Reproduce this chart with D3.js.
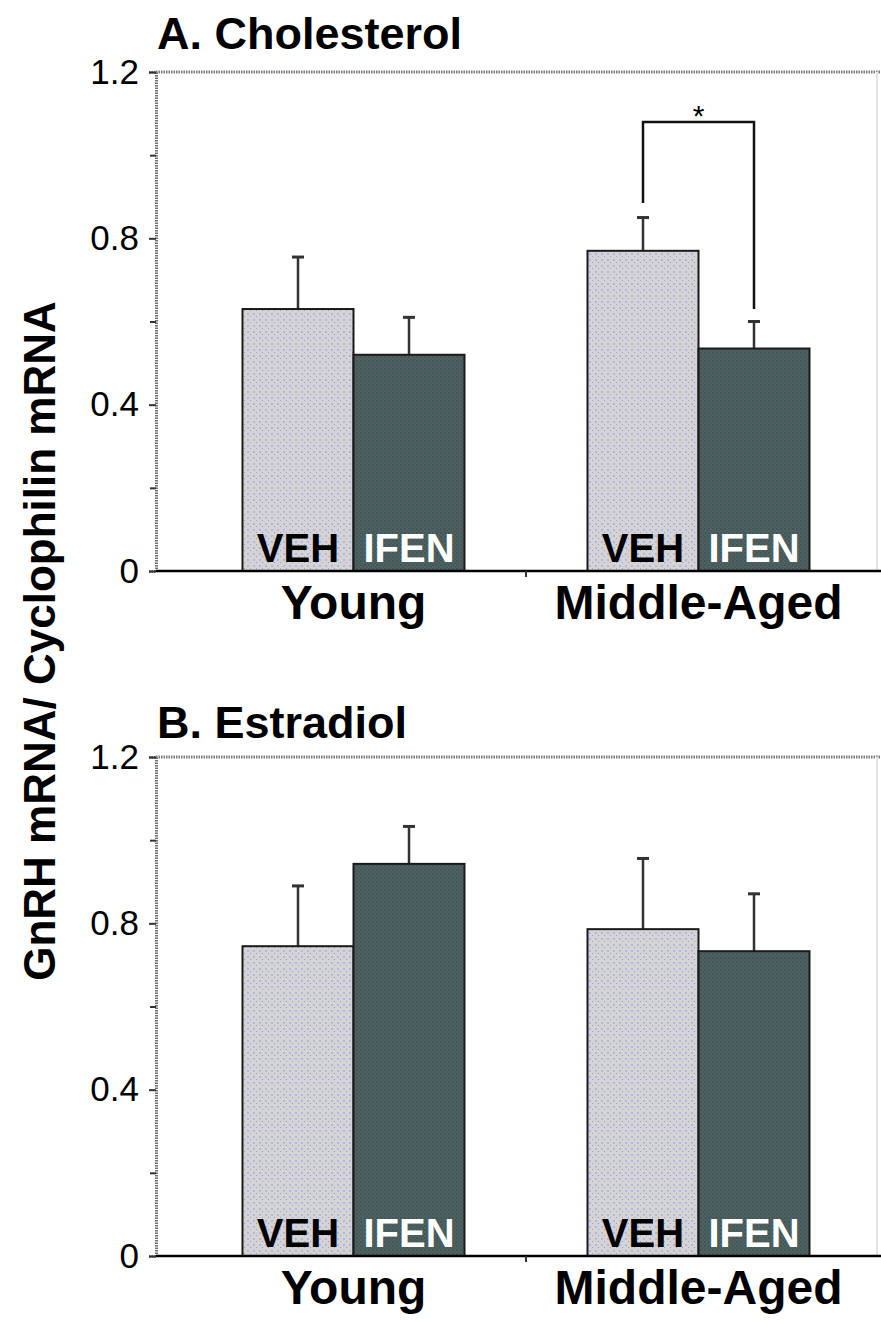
<!DOCTYPE html>
<html>
<head>
<meta charset="utf-8">
<script src="https://cdn.jsdelivr.net/npm/d3@7"></script>
<style>
  body { margin: 0; background: #fff; }
  text { font-family: "Liberation Sans", Arial, sans-serif; }
</style>
</head>
<body>
<script>
// data
const groups = ["Young", "Middle-Aged"];
const treatments = ["VEH", "IFEN"];
const panelTitles = ["A. Cholesterol", "B. Estradiol"];

const cholVEH = [0.63, 0.77];
const cholVEHerr = [0.125, 0.08];
const cholIFEN = [0.52, 0.535];
const cholIFENerr = [0.09, 0.065];

const estrVEH = [0.745, 0.786];
const estrVEHerr = [0.145, 0.17];
const estrIFEN = [0.943, 0.733];
const estrIFENerr = [0.09, 0.138];

const majorTicks = [0, 0.4, 0.8, 1.2];
const minorTicks = [0.2, 0.6, 1.0];

// significance bracket in panel A (Middle-Aged VEH vs IFEN)
const bracket = { group: "Middle-Aged", top: 1.08, leftEnd: 0.885, rightEnd: 0.63, label: "*" };

const width = 881, height = 1321;
const axisX = 156, plotRight = 881, plotH = 499;
const panelTops = [72, 757];

const svg = d3.select("body").append("svg")
    .attr("width", width)
    .attr("height", height);

// textured fills like the original bitmap
let defs = svg.append("defs");
let pv = defs.append("pattern").attr("id", "vehFill")
    .attr("width", 6).attr("height", 6).attr("patternUnits", "userSpaceOnUse");
pv.append("rect").attr("width", 6).attr("height", 6).attr("fill", "#d4d4d6");
pv.append("rect").attr("x", 1).attr("y", 1).attr("width", 2).attr("height", 2).attr("fill", "#b4b4e6");
pv.append("rect").attr("x", 4).attr("y", 4).attr("width", 1).attr("height", 1).attr("fill", "#a0a0a0");

let pi = defs.append("pattern").attr("id", "ifenFill")
    .attr("width", 4).attr("height", 4).attr("patternUnits", "userSpaceOnUse");
pi.append("rect").attr("width", 4).attr("height", 4).attr("fill", "#5c5c5c");
pi.append("rect").attr("width", 2).attr("height", 2).attr("fill", "#345c5c");
pi.append("rect").attr("x", 2).attr("y", 2).attr("width", 2).attr("height", 2).attr("fill", "#3a6060");

let x0 = d3.scaleBand().domain(groups).range([181, 871]).padding(0);
let x1 = d3.scaleBand().domain(treatments).range([0, x0.bandwidth()]).paddingInner(0).paddingOuter(0.554);
let y = d3.scaleLinear().domain([0, 1.2]).range([plotH, 0]);

let fills = { VEH: "url(#vehFill)", IFEN: "url(#ifenFill)" };
let labelColor = { VEH: "#000", IFEN: "#fff" };

function drawPanel(idx, veh, vehErr, ifen, ifenErr) {
    let g = svg.append("g").attr("transform", `translate(0,${panelTops[idx]})`);

    let rows = [];
    groups.forEach((grp, i) => {
        rows.push({ group: grp, treat: "VEH", value: veh[i], err: vehErr[i] });
        rows.push({ group: grp, treat: "IFEN", value: ifen[i], err: ifenErr[i] });
    });

    // title
    g.append("text")
        .text(panelTitles[idx])
        .attr("x", axisX + 1)
        .attr("y", idx == 0 ? -23 : -19)
        .attr("font-size", 45)
        .attr("font-weight", "bold")
        .attr("fill", "#000");

    // frame: top + faint right
    g.append("line")
        .attr("x1", axisX).attr("x2", plotRight)
        .attr("y1", 0).attr("y2", 0)
        .attr("stroke", "#7c7c7c").attr("stroke-width", 3)
        .attr("stroke-dasharray", "1.5,1");
    g.append("line")
        .attr("x1", 877).attr("x2", 877)
        .attr("y1", 0).attr("y2", plotH)
        .attr("stroke", "#e4e4e4").attr("stroke-width", 2);

    // error bars (drawn first so bar tops cover the stem)
    let eb = g.selectAll(".err").data(rows).enter().append("g").attr("class", "err");
    eb.append("line")
        .attr("x1", d => x0(d.group) + x1(d.treat) + x1.bandwidth() / 2)
        .attr("x2", d => x0(d.group) + x1(d.treat) + x1.bandwidth() / 2)
        .attr("y1", d => y(d.value))
        .attr("y2", d => y(d.value + d.err))
        .attr("stroke", "#333").attr("stroke-width", 2.5);
    eb.append("line")
        .attr("x1", d => x0(d.group) + x1(d.treat) + x1.bandwidth() / 2 - 6)
        .attr("x2", d => x0(d.group) + x1(d.treat) + x1.bandwidth() / 2 + 6)
        .attr("y1", d => y(d.value + d.err))
        .attr("y2", d => y(d.value + d.err))
        .attr("stroke", "#333").attr("stroke-width", 3);

    // bars
    g.selectAll(".bar").data(rows).enter().append("rect")
        .attr("class", "bar")
        .attr("x", d => x0(d.group) + x1(d.treat))
        .attr("y", d => y(d.value))
        .attr("width", x1.bandwidth())
        .attr("height", d => plotH - y(d.value))
        .attr("fill", d => fills[d.treat])
        .attr("stroke", "#1a1a1a")
        .attr("stroke-width", 2);

    // labels inside bars
    g.selectAll(".blab").data(rows).enter().append("text")
        .attr("class", "blab")
        .text(d => d.treat)
        .attr("x", d => x0(d.group) + x1(d.treat) + x1.bandwidth() / 2)
        .attr("y", plotH - 9)
        .attr("text-anchor", "middle")
        .attr("font-size", 40)
        .attr("font-weight", "bold")
        .attr("fill", d => labelColor[d.treat]);

    // y axis: minor ticks + major labels
    let yMinor = d3.axisLeft(y).tickValues(minorTicks).tickSize(6).tickFormat("");
    let yMajor = d3.axisLeft(y).tickValues(majorTicks).tickSize(7).tickPadding(10)
        .tickFormat(d => d == 0 ? "0" : d3.format(".1f")(d));

    let ga = g.append("g").attr("transform", `translate(${axisX},0)`).call(yMajor);
    ga.select(".domain")
        .attr("stroke", "#6e6e6e").attr("stroke-width", 3).attr("stroke-dasharray", "1.5,1");
    ga.selectAll(".tick line").attr("stroke", "#333").attr("stroke-width", 2);
    ga.selectAll(".tick text")
        .attr("font-size", 35)
        .attr("fill", "#000")
        .attr("font-family", "'Liberation Sans', Arial, sans-serif");

    let gm = g.append("g").attr("transform", `translate(${axisX},0)`).call(yMinor);
    gm.select(".domain").remove();
    gm.selectAll(".tick line").attr("stroke", "#333").attr("stroke-width", 2);

    // x axis
    let xa = d3.axisBottom(x0).tickSize(0).tickPadding(14);
    let gx = g.append("g").attr("transform", `translate(0,${plotH})`).call(xa);
    gx.select(".domain").remove();
    g.append("line")
        .attr("x1", axisX).attr("x2", plotRight)
        .attr("y1", plotH).attr("y2", plotH)
        .attr("stroke", "#000").attr("stroke-width", 2.5);
    // small tick between the groups
    g.append("line")
        .attr("x1", x0.range()[0] + x0.step()).attr("x2", x0.range()[0] + x0.step())
        .attr("y1", plotH).attr("y2", plotH + 6)
        .attr("stroke", "#333").attr("stroke-width", 2);
    gx.selectAll(".tick text")
        .attr("font-size", 48)
        .attr("font-weight", "bold")
        .attr("fill", "#000")
        .attr("dy", "0.71em")
        .attr("font-family", "'Liberation Sans', Arial, sans-serif");

    return g;
}

let gA = drawPanel(0, cholVEH, cholVEHerr, cholIFEN, cholIFENerr);
drawPanel(1, estrVEH, estrVEHerr, estrIFEN, estrIFENerr);

// significance bracket
let bx1 = x0(bracket.group) + x1("VEH") + x1.bandwidth() / 2;
let bx2 = x0(bracket.group) + x1("IFEN") + x1.bandwidth() / 2;
gA.append("path")
    .attr("d", `M${bx1},${y(bracket.leftEnd)} V${y(bracket.top)} H${bx2} V${y(bracket.rightEnd)}`)
    .attr("fill", "none")
    .attr("stroke", "#111")
    .attr("stroke-width", 2.5);
gA.append("text")
    .text(bracket.label)
    .attr("x", (bx1 + bx2) / 2)
    .attr("y", y(bracket.top) + 4)
    .attr("text-anchor", "middle")
    .attr("font-size", 30)
    .attr("fill", "#000");

// shared y label
svg.append("text")
    .text("GnRH mRNA/ Cyclophilin mRNA")
    .attr("transform", "translate(55,641) rotate(-90)")
    .attr("text-anchor", "middle")
    .attr("font-size", 44)
    .attr("font-weight", "bold")
    .attr("fill", "#000");
</script>
</body>
</html>
